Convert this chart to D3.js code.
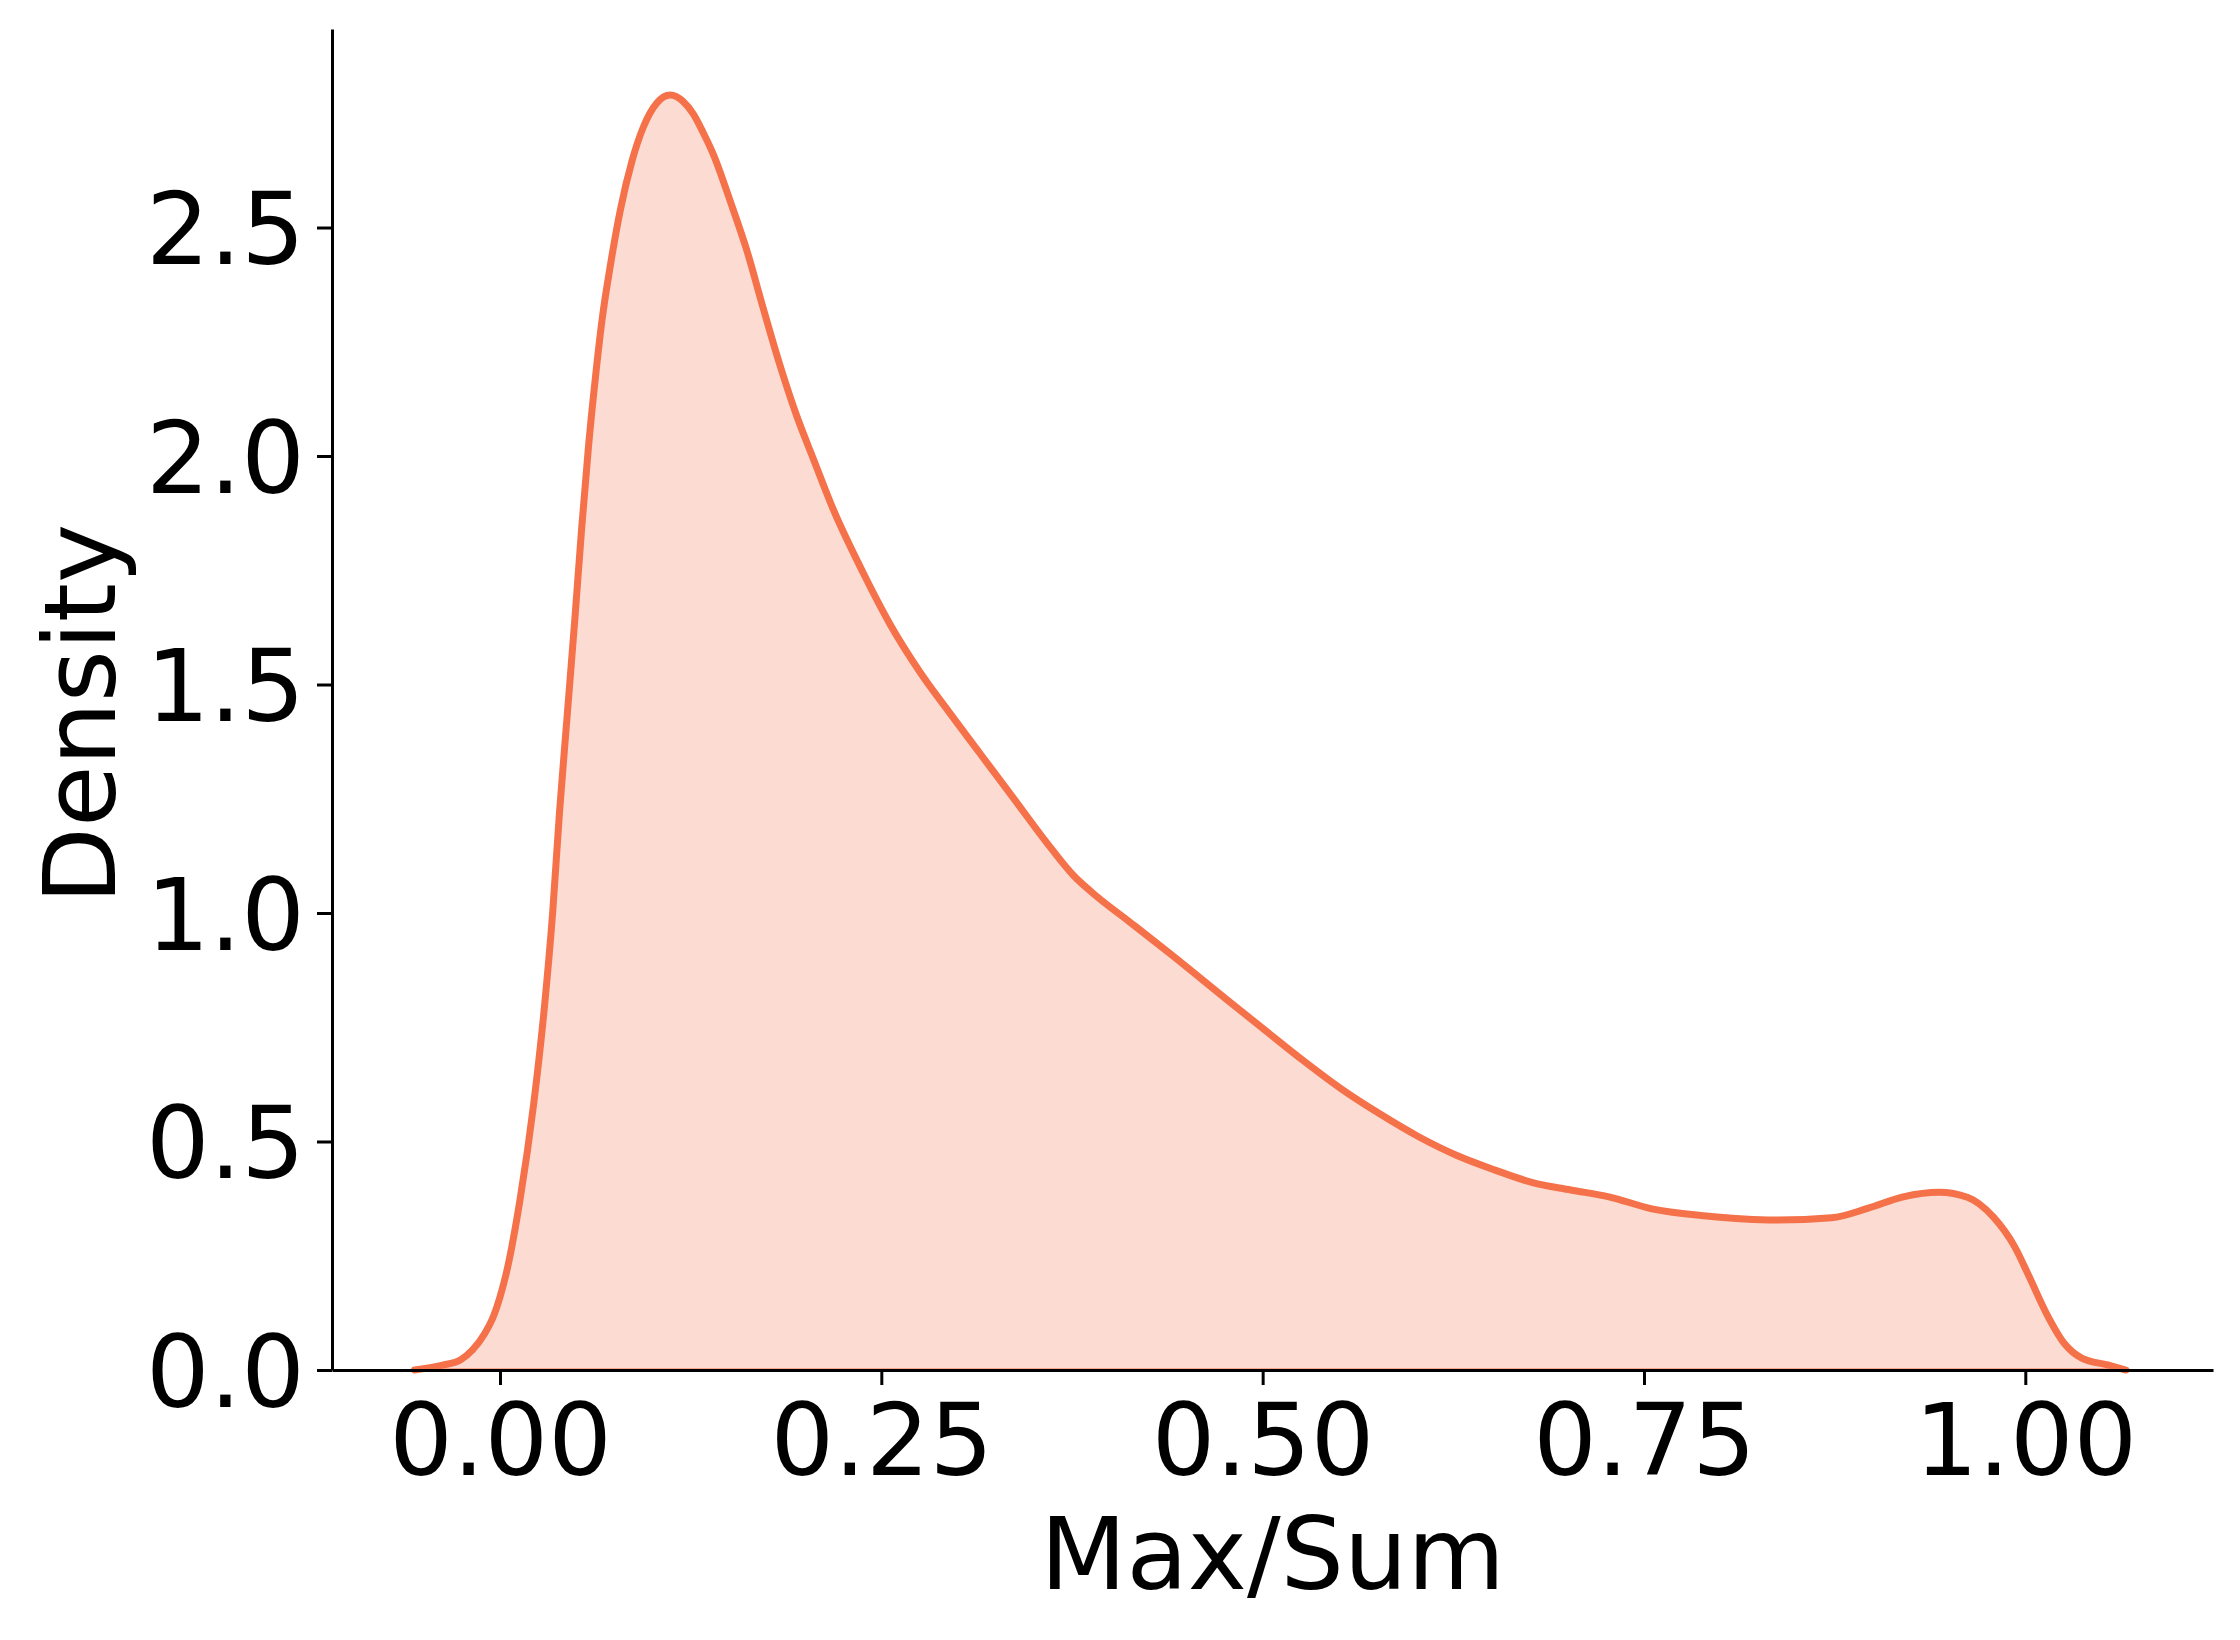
<!DOCTYPE html>
<html>
<head>
<meta charset="utf-8">
<script src="https://cdn.jsdelivr.net/npm/d3@7"></script>
<style>
  html, body { margin: 0; padding: 0; background: #fff; }
  svg { display: block; }
  text { font-family: "DejaVu Sans", sans-serif; fill: #000; }
</style>
</head>
<body>
<svg id="chart" width="2240" height="1640"></svg>
<script>
// Max/Sum values (x) and their KDE density (y)
const maxSum = [-0.056, -0.037, -0.026, -0.018, -0.010, -0.004, 0.000, 0.004, 0.013, 0.022,
  0.029, 0.0345, 0.039, 0.044, 0.049, 0.0535, 0.058, 0.0625, 0.067, 0.0725,
  0.079, 0.0865, 0.094, 0.1027, 0.1115, 0.120, 0.1268, 0.133, 0.140, 0.151,
  0.162, 0.1726, 0.1836, 0.1945, 0.2054, 0.2185, 0.238, 0.2557, 0.2754, 0.293,
  0.3147, 0.3365, 0.3584, 0.376, 0.391, 0.413, 0.439, 0.476, 0.501,
  0.527, 0.552, 0.577, 0.602, 0.627, 0.652, 0.677, 0.702, 0.727,
  0.756, 0.791, 0.836, 0.873, 0.897, 0.920, 0.9436, 0.962, 0.979, 0.993,
  1.0026, 1.0138, 1.0256, 1.037, 1.054, 1.066];
const density = [0.0, 0.011, 0.022, 0.044, 0.08, 0.12, 0.16, 0.21, 0.37, 0.58,
  0.79, 1.00, 1.22, 1.43, 1.64, 1.84, 2.02, 2.17, 2.30, 2.42,
  2.54, 2.645, 2.72, 2.772, 2.79, 2.776, 2.748, 2.709, 2.659, 2.557,
  2.448, 2.323, 2.198, 2.088, 1.994, 1.883, 1.745, 1.632, 1.527, 1.446,
  1.349, 1.252, 1.154, 1.082, 1.037, 0.980, 0.912, 0.812, 0.745,
  0.676, 0.614, 0.560, 0.511, 0.470, 0.438, 0.410, 0.394, 0.379,
  0.352, 0.337, 0.328, 0.333, 0.354, 0.379, 0.389, 0.378, 0.335, 0.270,
  0.204, 0.124, 0.058, 0.026, 0.011, 0.0];
const xTicks = [0.00, 0.25, 0.50, 0.75, 1.00];
const yTicks = [0.0, 0.5, 1.0, 1.5, 2.0, 2.5];
const xLabel = "Max/Sum";
const yLabel = "Density";
const lineColor = "#f4714a";

const svg = d3.select("#chart");
const plotLeft = 332, plotRight = 2213, plotTop = 29, plotBottom = 1370;

const x = d3.scaleLinear().domain([-0.11014, 1.12306]).range([plotLeft, plotRight]);
const y = d3.scaleLinear().domain([0, 2.9344]).range([plotBottom, plotTop]);

const pts = maxSum.map((v, i) => [v, density[i]]);

const area = d3.area()
  .x(d => x(d[0])).y0(y(0)).y1(d => y(d[1]))
  .curve(d3.curveMonotoneX);
const line = d3.line()
  .x(d => x(d[0])).y(d => y(d[1]))
  .curve(d3.curveMonotoneX);

svg.append("path").datum(pts)
  .attr("d", area)
  .attr("fill", lineColor).attr("fill-opacity", 0.25)
  .attr("stroke", lineColor).attr("stroke-width", 3);

svg.append("path").datum(pts)
  .attr("d", line)
  .attr("fill", "none")
  .attr("stroke", lineColor).attr("stroke-width", 7)
  .attr("stroke-linejoin", "round").attr("stroke-linecap", "round");

// axes
const xAxis = d3.axisBottom(x).tickValues(xTicks).tickFormat(d3.format(".2f"))
  .tickSize(15).tickPadding(19).tickSizeOuter(0);
const yAxis = d3.axisLeft(y).tickValues(yTicks).tickFormat(d3.format(".1f"))
  .tickSize(15).tickPadding(12).tickSizeOuter(0);

const gx = svg.append("g").attr("transform", `translate(0,${plotBottom})`).call(xAxis);
const gy = svg.append("g").attr("transform", `translate(${plotLeft},0)`).call(yAxis);

[gx, gy].forEach(g => {
  g.select(".domain").attr("stroke", "#000").attr("stroke-width", 3);
  g.selectAll(".tick line").attr("stroke", "#000").attr("stroke-width", 3);
  g.selectAll(".tick text")
    .attr("font-family", "DejaVu Sans, sans-serif")
    .attr("font-size", 100).attr("fill", "#000");
});
gy.selectAll(".tick text").attr("dy", "0.36em");

svg.append("text")
  .attr("x", (plotLeft + plotRight) / 2).attr("y", 1589)
  .attr("text-anchor", "middle").attr("font-size", 100)
  .text(xLabel);

svg.append("text")
  .attr("transform", `translate(115,714) rotate(-90)`)
  .attr("text-anchor", "middle").attr("font-size", 100)
  .text(yLabel);
</script>
</body>
</html>
